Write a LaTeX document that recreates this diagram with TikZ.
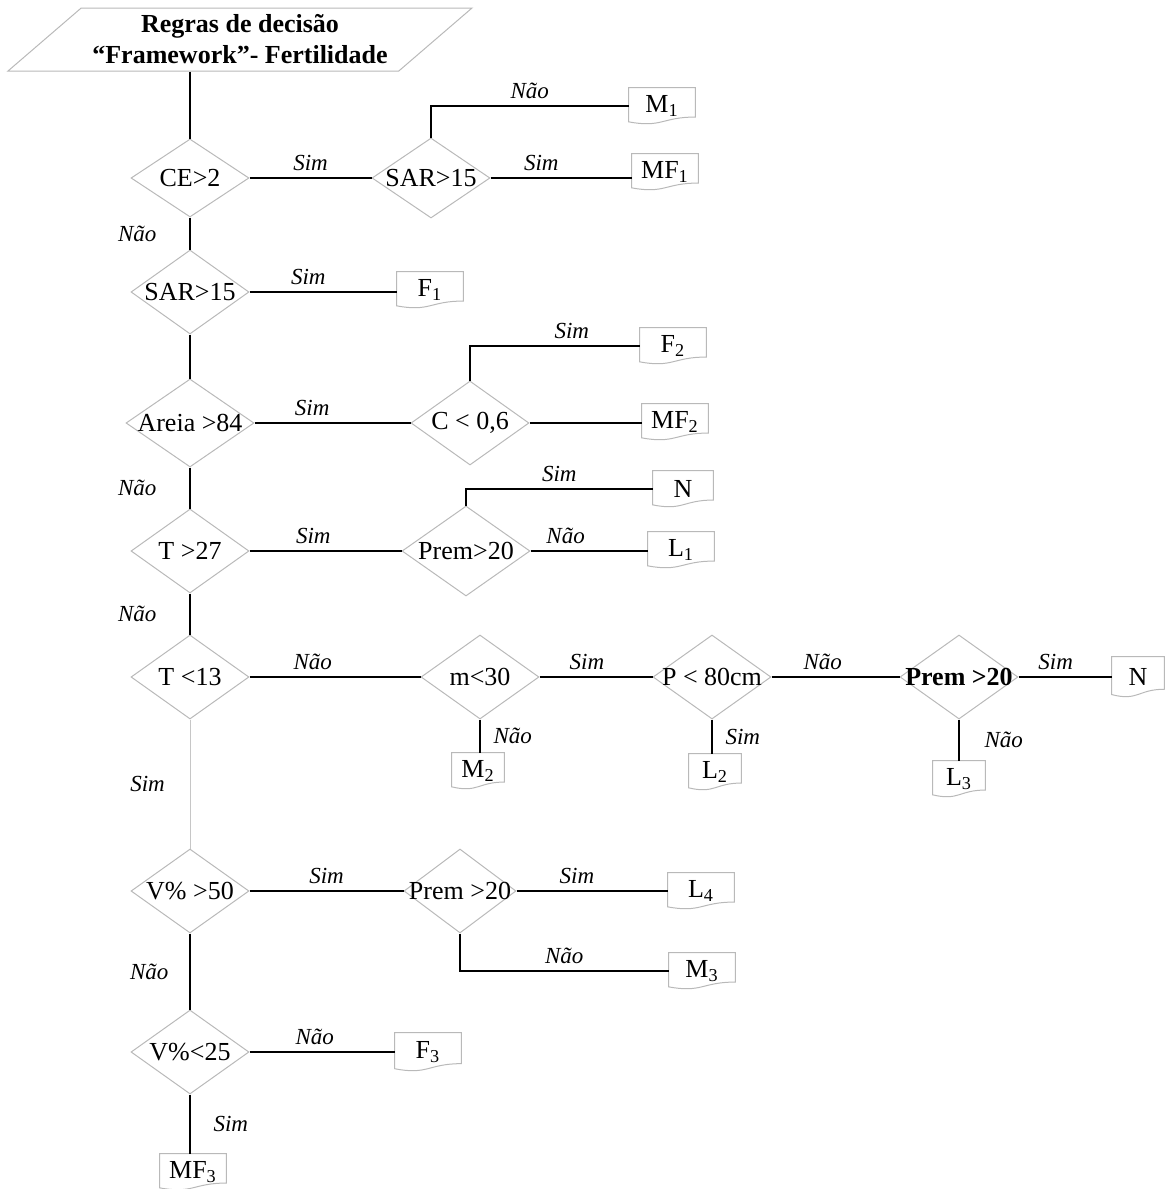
\documentclass[tikz,border=0pt]{standalone}
\usepackage{fontspec}
\setmainfont{Liberation Serif}
\usetikzlibrary{shapes.geometric,calc}

\begin{document}
\begin{tikzpicture}[
    x=0.5pt, y=-0.5pt,
    decisao/.style={diamond, draw=gray!55, line width=0.5pt, inner sep=0pt,
      minimum width=59pt, minimum height=42pt,
      label={[font=\fontsize{13}{15}\selectfont]center:#1}},
    folha/.style={inner sep=0pt, minimum width=33pt, minimum height=18pt,
      font=\fontsize{13}{15}\selectfont},
    estreita/.style={folha, minimum width=26pt},
    titulo/.style={trapezium, trapezium left angle=34, trapezium right angle=146,
      trapezium stretches body, draw=gray!55, line width=0.5pt, inner sep=0pt,
      minimum width=232pt, minimum height=31.5pt, align=center,
      font=\bfseries\fontsize{13}{15.5}\selectfont},
    rotulo/.style={font=\itshape\fontsize{11.5}{13}\selectfont},
    liga/.style={line width=0.9pt},
    contorno/.style={draw=gray!55, line width=0.5pt}
  ]
  \useasboundingbox (0,0) rectangle (1164,1189);

  \node[titulo] (titulo) at (240,39.5) {Regras de decisão\\“Framework”- Fertilidade};

  % decisoes
  \node[decisao={CE>2}, minimum height=39pt] (ce) at (190,178) {};
  \node[decisao={SAR>15}, minimum height=40pt] (sar1) at (431,178) {};
  \node[decisao={SAR>15}] (sar2) at (190,292) {};
  \node[decisao={Areia >84}, minimum width=64pt, minimum height=44pt] (areia) at (190,423) {};
  \node[decisao={C < 0,6}] (c06) at (470,423) {};
  \node[decisao={T >27}] (t27) at (190,551) {};
  \node[decisao={Prem>20}, minimum width=64pt, minimum height=45pt] (prem1) at (466,551) {};
  \node[decisao={T <13}] (t13) at (190,677) {};
  \node[decisao={m<30}] (m30) at (480,677) {};
  \node[decisao={P < 80cm}] (p80) at (712,677) {};
  \node[decisao={\textbf{Prem >20}}] (prem2) at (959,677) {};
  \node[decisao={V\% >50}] (v50) at (190,891) {};
  \node[decisao={Prem >20}, minimum width=56pt] (prem3) at (460,891) {};
  \node[decisao={V\%<25}] (v25) at (190,1052) {};

  % classes
  \node[folha] (m1) at (662,106) {M\textsubscript{1}};
  \node[folha] (mf1) at (665,172) {MF\textsubscript{1}};
  \node[folha] (f1) at (430,290) {F\textsubscript{1}};
  \node[folha] (f2) at (673,346) {F\textsubscript{2}};
  \node[folha] (mf2) at (675,422) {MF\textsubscript{2}};
  \node[folha, minimum width=30pt] (n1) at (683,489) {N};
  \node[folha] (l1) at (681,550) {L\textsubscript{1}};
  \node[estreita] (m2) at (478,771) {M\textsubscript{2}};
  \node[estreita] (l2) at (715,772) {L\textsubscript{2}};
  \node[estreita, minimum height=20pt] (n2) at (1138,677) {N};
  \node[estreita] (l3) at (959,779) {L\textsubscript{3}};
  \node[folha] (l4) at (701,891) {L\textsubscript{4}};
  \node[folha] (m3) at (702,971) {M\textsubscript{3}};
  \node[folha, minimum height=19pt] (f3) at (428,1052) {F\textsubscript{3}};
  \node[folha] (mf3) at (193,1172) {MF\textsubscript{3}};

  \foreach \f in {m1,mf1,f1,f2,mf2,n1,l1,m2,l2,n2,l3,l4,m3,f3,mf3}
    \draw[contorno] (\f.north west) -- (\f.north east) -- ($(\f.north east)!0.8!(\f.south east)$)
      .. controls ($(\f.north)!0.8!(\f.south)$) and ($(\f.north)!1.1!(\f.south)$)
      .. ($(\f.north west)!0.93!(\f.south west)$) -- cycle;

  % ligacoes
  \draw[liga] (titulo.south -| ce.north) -- (ce.north);
  \draw[liga] (ce.east) -- node[rotulo, above] {Sim} (sar1.west);
  \draw[liga] (sar1.north) |- node[rotulo, above, pos=0.75] {Não} (m1.west);
  \draw[liga] (sar1.east) -- node[rotulo, above, pos=0.36] {Sim} (sar1.east -| mf1.west);
  \draw[liga] (ce.south) -- node[rotulo, left=13pt] {Não} (sar2.north);
  \draw[liga] (sar2.east) -- node[rotulo, above, pos=0.4] {Sim} (sar2.east -| f1.west);
  \draw[liga] (sar2.south) -- (areia.north);
  \draw[liga] (areia.east) -- node[rotulo, above, pos=0.37] {Sim} (c06.west);
  \draw[liga] (c06.north) |- node[rotulo, above, pos=0.8] {Sim} (f2.west);
  \draw[liga] (c06.east) -- (c06.east -| mf2.west);
  \draw[liga] (areia.south) -- node[rotulo, left=13pt] {Não} (t27.north);
  \draw[liga] (t27.east) -- node[rotulo, above, pos=0.42] {Sim} (prem1.west);
  \draw[liga] (prem1.north) |- node[rotulo, above, pos=0.75] {Sim} (n1.west);
  \draw[liga] (prem1.east) -- node[rotulo, above, pos=0.3] {Não} (prem1.east -| l1.west);
  \draw[liga] (t27.south) -- node[rotulo, left=13pt] {Não} (t13.north);
  \draw[liga] (t13.east) -- node[rotulo, above, pos=0.37] {Não} (m30.west);
  \draw[liga] (m30.south) -- node[rotulo, right=3pt] {Não} (m30.south |- m2.north);
  \draw[liga] (m30.east) -- node[rotulo, above, pos=0.42] {Sim} (p80.west);
  \draw[liga] (p80.south) -- node[rotulo, right=3pt] {Sim} (p80.south |- l2.north);
  \draw[liga] (p80.east) -- node[rotulo, above, pos=0.4] {Não} (prem2.west);
  \draw[liga] (prem2.east) -- node[rotulo, above, pos=0.4] {Sim} (prem2.east -| n2.west);
  \draw[liga] (prem2.south) -- node[rotulo, right=9pt] {Não} (prem2.south |- l3.north);
  \draw[line width=0.5pt, gray!45] (t13.south) -- node[rotulo, black, left=9pt] {Sim} (v50.north);
  \draw[liga] (v50.east) -- node[rotulo, above] {Sim} (prem3.west);
  \draw[liga] (prem3.east) -- node[rotulo, above, pos=0.4] {Sim} (prem3.east -| l4.west);
  \draw[liga] (prem3.south) |- node[rotulo, above, pos=0.75] {Não} (m3.west);
  \draw[liga] (v50.south) -- node[rotulo, left=7pt] {Não} (v25.north);
  \draw[liga] (v25.east) -- node[rotulo, above, pos=0.45] {Não} (v25.east -| f3.west);
  \draw[liga] (v25.south) -- node[rotulo, right=8pt] {Sim} (v25.south |- mf3.north);
\end{tikzpicture}
\end{document}
